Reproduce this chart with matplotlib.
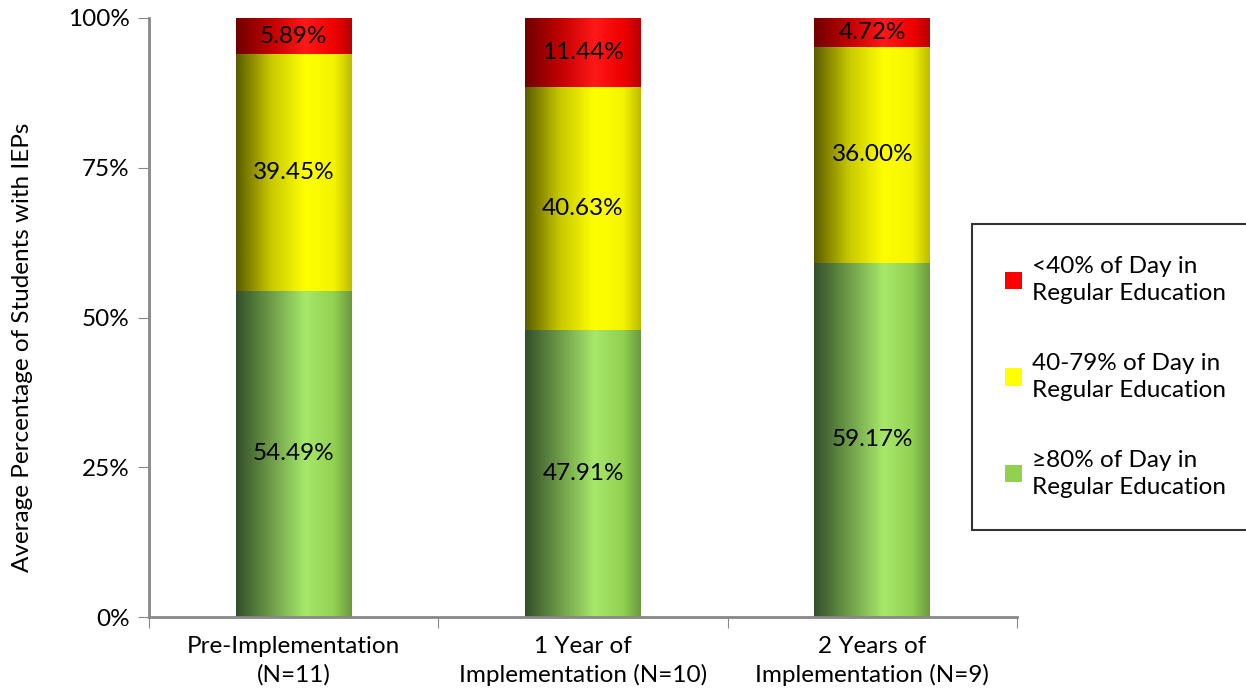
import matplotlib.pyplot as plt
import numpy as np
from matplotlib.colors import LinearSegmentedColormap, to_rgb
from matplotlib.patches import Patch

plt.rcParams['font.family'] = ['Lato', 'DejaVu Sans']

categories = ['Pre-Implementation\n(N=11)', '1 Year of\nImplementation (N=10)', '2 Years of\nImplementation (N=9)']
high_pct = [54.49, 47.91, 59.17]   # >=80% of day in regular education
mid_pct = [39.45, 40.63, 36.00]    # 40-79%
low_pct = [5.89, 11.44, 4.72]      # <40%

series = [
    ('\u226580% of Day in\nRegular Education', high_pct,
     ['#33502a', '#6e9c48', '#a6e86a', '#92d050', '#6a9a40']),
    ('40-79% of Day in\nRegular Education', mid_pct,
     ['#5c5c00', '#c8c800', '#ffff00', '#f4f400', '#bdbd00']),
    ('<40% of Day in\nRegular Education', low_pct,
     ['#700000', '#c00000', '#ff1818', '#f00000', '#b80000']),
]
solid = ['#92d050', '#ffff00', '#ff0000']

fig = plt.figure(figsize=(12.46, 7), dpi=100)
ax = fig.add_axes([149 / 1246, 1 - 617 / 700, (1017 - 149) / 1246, (617 - 18) / 700])

x = np.arange(len(categories))
width = 0.4
stops = [0.0, 0.3, 0.6, 0.85, 1.0]

# stacked segments, each filled with a left-to-right shading
bottom = np.zeros(len(categories))
for name, vals, cols in series:
    cmap = LinearSegmentedColormap.from_list(name, list(zip(stops, [to_rgb(c) for c in cols])))
    grad = cmap(np.linspace(0, 1, 200))[np.newaxis, :, :3]
    for i, v in enumerate(vals):
        ax.imshow(grad, extent=(x[i] - width / 2, x[i] + width / 2, bottom[i], bottom[i] + v),
                  aspect='auto', interpolation='bilinear', zorder=2)
        ax.text(x[i], bottom[i] + v / 2, f'{v:.2f}%', ha='center', va='center',
                fontsize=17.5, color='black', zorder=3)
    bottom += np.array(vals)

ax.set_xlim(-0.5, len(categories) - 0.5)
ax.set_ylim(0, 100)

ax.set_yticks([0, 25, 50, 75, 100])
ax.set_yticklabels(['0%', '25%', '50%', '75%', '100%'], fontsize=17.5)
ax.set_xticks(np.arange(-0.5, len(categories), 1.0))
ax.set_xticklabels([])
ax.set_xticks(x, minor=True)
ax.set_xticklabels(categories, minor=True, fontsize=17.5, linespacing=1.35)
ax.tick_params(axis='x', which='major', length=8, color='#888888', direction='out')
ax.tick_params(axis='x', which='minor', length=0, pad=14)
ax.tick_params(axis='y', length=8, color='#888888', pad=6)

for side in ['top', 'right']:
    ax.spines[side].set_visible(False)
for side in ['left', 'bottom']:
    ax.spines[side].set_color('#888888')
    ax.spines[side].set_linewidth(2)

ax.set_ylabel('Average Percentage of Students with IEPs', fontsize=17.5)
ax.yaxis.set_label_coords(-0.134, 0.45)

handles = [Patch(facecolor=c) for c in reversed(solid)]
labels = [s[0] for s in reversed(series)]
leg = fig.legend(handles, labels, loc='center left', bbox_to_anchor=(972 / 1246, 1 - 377 / 700),
                 fontsize=17.5, frameon=True, fancybox=False, edgecolor='black',
                 labelspacing=2.0, handlelength=0.7, handleheight=0.7, handletextpad=0.4,
                 borderpad=1.35, borderaxespad=0)
leg.get_frame().set_linewidth(1.5)
for t in leg.get_texts():
    t.set_linespacing(1.35)

fig.savefig('out.png', dpi=100)
